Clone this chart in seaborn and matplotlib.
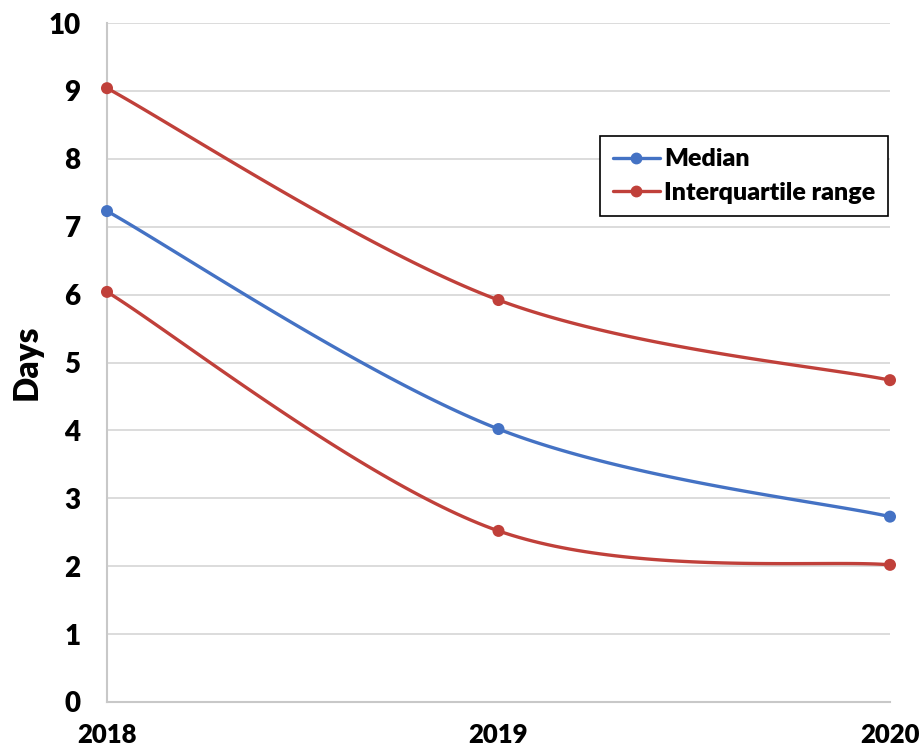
import numpy as np
import pandas as pd
import matplotlib
matplotlib.use("Agg")
import matplotlib.pyplot as plt
import seaborn as sns
from matplotlib.lines import Line2D

years = [2018, 2019, 2020]
median = [7.23, 4.02, 2.73]
iqr_upper = [9.04, 5.92, 4.74]
iqr_lower = [6.04, 2.52, 2.02]
y_ticks = list(range(0, 11))

BLUE = "#4472C4"
RED = "#C0403A"


def smooth_curve(xs, ys, n=60):
    """Cubic Bezier smoothing through every point (spreadsheet-style)."""
    pts = np.column_stack([xs, ys]).astype(float)
    ext = np.vstack([pts[0], pts, pts[-1]])
    out = []
    for i in range(len(pts) - 1):
        p0, p1, p2, p3 = ext[i], ext[i + 1], ext[i + 2], ext[i + 3]
        c1 = p1 + (p2 - p0) / 6.0
        c2 = p2 - (p3 - p1) / 6.0
        t = np.linspace(0, 1, n)[:, None]
        seg = ((1 - t) ** 3) * p1 + 3 * ((1 - t) ** 2) * t * c1 + 3 * (1 - t) * t ** 2 * c2 + t ** 3 * p2
        out.append(seg if i == 0 else seg[1:])
    return np.vstack(out)


sns.set_theme(style="white")
plt.rcParams["font.family"] = ["Lato", "DejaVu Sans"]

fig = plt.figure(figsize=(9.19, 7.49), dpi=100)
ax = fig.add_axes([107 / 919, 47 / 749, (890 - 107) / 919, (702 - 23) / 749])

series = [("median", median, BLUE), ("upper", iqr_upper, RED), ("lower", iqr_lower, RED)]
curves = []
points = []
for name, vals, _ in series:
    c = smooth_curve(years, vals)
    curves.append(pd.DataFrame({"x": c[:, 0], "y": c[:, 1], "s": name}))
    points.append(pd.DataFrame({"x": years, "y": vals, "s": name}))
curve_df = pd.concat(curves, ignore_index=True)
point_df = pd.concat(points, ignore_index=True)
palette = {name: col for name, _, col in series}

sns.lineplot(data=curve_df, x="x", y="y", hue="s", units="s", estimator=None,
             palette=palette, linewidth=2.4, legend=False, ax=ax, sort=False,
             zorder=3, clip_on=False)
sns.scatterplot(data=point_df, x="x", y="y", hue="s", palette=palette, s=75,
                edgecolor="none", legend=False, ax=ax, zorder=4, clip_on=False)

ax.set_xlim(2018, 2020)
ax.set_ylim(0, 10)
ax.set_yticks(y_ticks)
ax.set_xticks(years)
ax.set_xticklabels([str(y) for y in years])
ax.grid(axis="y", color="#D9D9D9", linewidth=1.3)
ax.set_axisbelow(True)
for side in ["top", "right"]:
    ax.spines[side].set_visible(False)
for side in ["left", "bottom"]:
    ax.spines[side].set_color("#C8C8C8")
    ax.spines[side].set_linewidth(1.5)
ax.tick_params(axis="both", length=0, labelcolor="black")
ax.tick_params(axis="y", pad=19, labelsize=20)
ax.tick_params(axis="x", pad=15, labelsize=18.5)
for lab in ax.get_xticklabels() + ax.get_yticklabels():
    lab.set_fontweight("heavy")
ax.set_xlabel("")
ax.set_ylabel("Days", fontsize=24, fontweight="heavy", labelpad=4, color="black")

handles = [
    Line2D([0], [0], color=BLUE, lw=2.4, marker="o", markersize=7.5),
    Line2D([0], [0], color=RED, lw=2.4, marker="o", markersize=7.5),
]
leg = ax.legend(handles, ["Median", "Interquartile range"], loc="upper left",
                bbox_to_anchor=((600 - 107) / 783, (702 - 136) / 679),
                frameon=True, fancybox=False, framealpha=1, edgecolor="black",
                prop={"weight": "heavy", "size": 18}, handlelength=1.9,
                handletextpad=0.15, borderpad=0.5, labelspacing=0.45,
                borderaxespad=0)
leg.get_frame().set_linewidth(1.2)
for t in leg.get_texts():
    t.set_color("black")

fig.savefig("out.png", dpi=100)
